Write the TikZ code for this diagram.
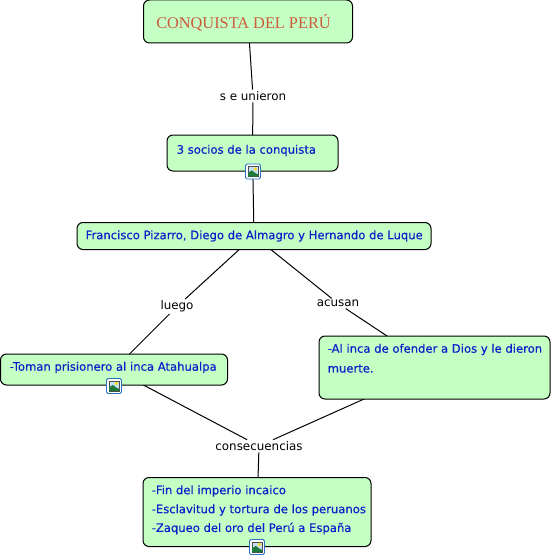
\documentclass[tikz,border=0pt]{standalone}
\usepackage{fontspec}
\setmainfont{DejaVu Sans}
\newfontfamily\titlefont{Liberation Serif}
\newfontfamily\boxfont[FakeBold=0.25]{DejaVu Sans}
\definecolor{boxfill}{HTML}{C4FFC4}
\definecolor{boxtext}{HTML}{0A20C8}
\definecolor{titletext}{HTML}{CC5A3C}
\definecolor{iconblue}{HTML}{2A6FC0}
\definecolor{iconsky}{HTML}{C8E0F4}
\definecolor{iconhill}{HTML}{1F7A3A}
\tikzset{
  conceptbox/.style={draw=black,line width=1pt,fill=boxfill,rounded corners=6pt,inner sep=0pt,anchor=center},
  boxlabel/.style={text=boxtext,font=\boxfont\fontsize{11.6pt}{13pt}\selectfont,anchor=west,inner sep=0pt},
  linklabel/.style={font=\fontsize{11.9pt}{13pt}\selectfont,text=black,inner sep=1.5pt},
  link/.style={draw=black,line width=1pt},
  pics/imageicon/.style={code={
    \draw[iconblue,fill=white,line width=0.9pt,rounded corners=1.5pt] (-7.5,-7.5) rectangle (7.5,7.5);
    \draw[black!70,fill=iconsky,line width=0.6pt] (-5.2,-5.2) rectangle (5.2,5.2);
    \fill[yellow!80!orange] (2.4,-2.6) circle (1.7);
    \fill[iconhill] (-5,5) -- (-5,1.5) -- (-1.2,-1.2) -- (1.5,1) -- (5,3) -- (5,5) -- cycle;
  }}
}
\begin{document}
\begin{tikzpicture}[x=1pt,y=-1pt]
\useasboundingbox (0,0) rectangle (553,559);
% link labels
\node[linklabel] (l1) at (253,96) {s e unieron};
\node[linklabel] (l2) at (177,306.5) {luego};
\node[linklabel] (l3) at (338,303.5) {acusan};
\node[linklabel] (l4) at (259,446) {consecuencias};
% box positions
\coordinate (ct) at (248,21.5);
\coordinate (cs) at (252.5,153);
\coordinate (cf) at (254,236);
\coordinate (cp) at (114,369.5);
\coordinate (ci) at (434.5,367.5);
\coordinate (cc) at (257,512);
% connectors
\draw[link] (ct) -- (l1);
\draw[link] (l1) -- (cs);
\draw[link] (cs) -- (cf);
\draw[link] (cf) -- (l2);
\draw[link] (l2) -- (cp);
\draw[link] (cf) -- (l3);
\draw[link] (l3) -- (ci);
\draw[link] (cp) -- (l4);
\draw[link] (ci) -- (l4);
\draw[link] (l4) -- (cc);
% boxes
\node[conceptbox,minimum width=209pt,minimum height=43pt] (title) at (ct) {};
\node[conceptbox,minimum width=171pt,minimum height=36pt] (socios) at (cs) {};
\node[conceptbox,minimum width=354pt,minimum height=27pt] (francisco) at (cf) {};
\node[conceptbox,minimum width=227pt,minimum height=31pt] (toman) at (cp) {};
\node[conceptbox,minimum width=231pt,minimum height=63pt] (inca) at (ci) {};
\node[conceptbox,minimum width=228pt,minimum height=69pt] (fin) at (cc) {};
% box texts
\node[anchor=center,inner sep=0pt,text=titletext,font=\titlefont\fontsize{16.3pt}{20pt}\selectfont] (ttitle) at (243.5,22.5) {CONQUISTA DEL PERÚ};
\node[boxlabel] (tsocios) at (176.5,150.5) {3 socios de la conquista};
\node[boxlabel] (tfran) at (85.5,236) {Francisco Pizarro, Diego de Almagro y Hernando de Luque};
\node[boxlabel] (ttoman) at (9.5,367.5) {-Toman prisionero al inca Atahualpa};
\node[boxlabel] (tinca1) at (327.5,349.5) {-Al inca de ofender a Dios y le dieron};
\node[boxlabel] (tinca2) at (327.5,368.5) {muerte.};
\node[boxlabel] (tfin1) at (151.5,491) {-Fin del imperio incaico};
\node[boxlabel] (tfin2) at (151.5,510) {-Esclavitud y tortura de los peruanos};
\node[boxlabel] (tfin3) at (151.5,528.5) {-Zaqueo del oro del Perú a España};
% image icons
\pic at (253,171.5) {imageicon};
\pic at (114,386) {imageicon};
\pic at (257,547) {imageicon};
\end{tikzpicture}
\end{document}
